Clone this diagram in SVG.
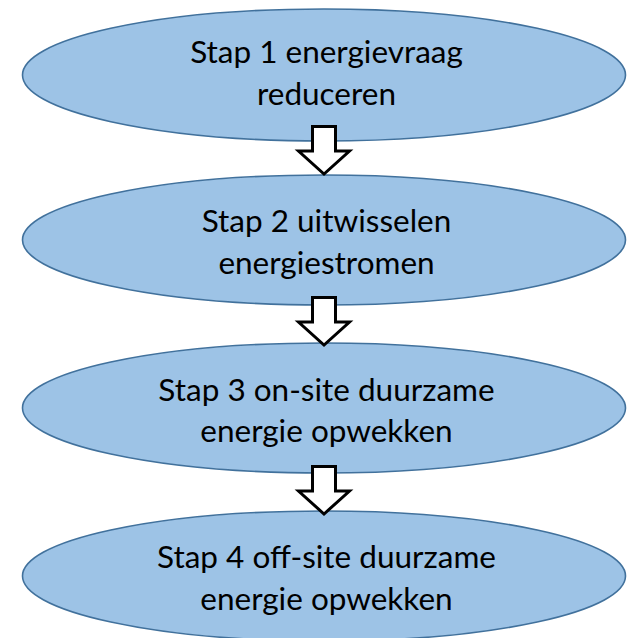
<svg xmlns="http://www.w3.org/2000/svg" width="632" height="638" viewBox="0 0 632 638">
<defs>
<style>
.node ellipse{fill:#9DC3E6;stroke:#41719C;stroke-width:1.6}
.node text{font-family:Lato,"Open Sans",sans-serif;font-size:31.5px;fill:#000;text-anchor:middle}
.arrow{fill:#fff;stroke:#000;stroke-width:3;stroke-linejoin:miter}
</style>
<path id="blockArrow" d="M-11.5,0 H11.5 V24.5 H25.5 L0,47.5 L-25.5,24.5 H-11.5 Z"/>
</defs>
<rect width="632" height="638" fill="#fff"/>
<g id="node1" class="node">
<ellipse cx="324" cy="75" rx="301.5" ry="66"/>
<text x="326.5" y="63">Stap 1 energievraag</text>
<text x="326.5" y="105">reduceren</text>
</g>
<g id="node2" class="node">
<ellipse cx="324" cy="240" rx="301.5" ry="65"/>
<text x="326.5" y="232">Stap 2 uitwisselen</text>
<text x="326.5" y="274">energiestromen</text>
</g>
<g id="node3" class="node">
<ellipse cx="324" cy="408" rx="301.5" ry="65"/>
<text x="326.5" y="401">Stap 3 on-site duurzame</text>
<text x="326.5" y="442">energie opwekken</text>
</g>
<g id="node4" class="node">
<ellipse cx="324" cy="576" rx="301.5" ry="65"/>
<text x="326.5" y="568">Stap 4 off-site duurzame</text>
<text x="326.5" y="610">energie opwekken</text>
</g>
<g id="connectors">
<use href="#blockArrow" class="arrow" x="324" y="126.5"/>
<use href="#blockArrow" class="arrow" x="324" y="297.5"/>
<use href="#blockArrow" class="arrow" x="324" y="466.5"/>
</g>
</svg>
